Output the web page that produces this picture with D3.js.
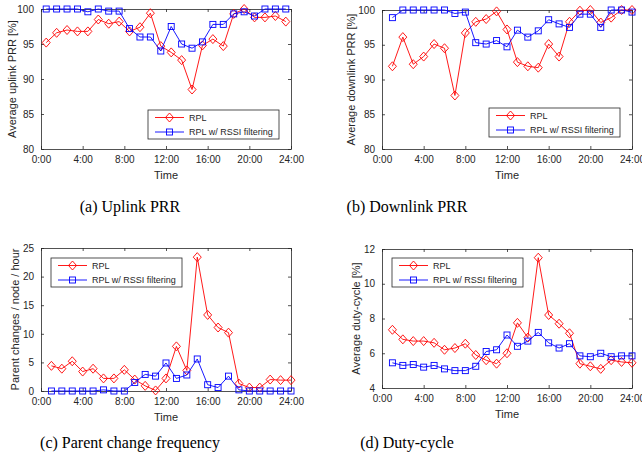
<!DOCTYPE html>
<html>
<head>
<meta charset="utf-8">
<script src="https://cdn.jsdelivr.net/npm/d3@7"></script>
<style>
  body { margin: 0; background: #fff; }
  svg { display: block; }
</style>
</head>
<body>
<svg id="chart" width="642" height="461"></svg>
<script>
// hours (a is sampled on half hours, the others on whole hours)
var hoursHalf = [0.5, 1.5, 2.5, 3.5, 4.5, 5.5, 6.5, 7.5, 8.5, 9.5, 10.5, 11.5,
                 12.5, 13.5, 14.5, 15.5, 16.5, 17.5, 18.5, 19.5, 20.5, 21.5, 22.5, 23.5];
var hoursFull = [1, 2, 3, 4, 5, 6, 7, 8, 9, 10, 11, 12,
                 13, 14, 15, 16, 17, 18, 19, 20, 21, 22, 23, 24];
var timeTicks = [0, 4, 8, 12, 16, 20, 24];
var timeLabels = ["0:00", "4:00", "8:00", "12:00", "16:00", "20:00", "24:00"];
var seriesNames = ["RPL", "RPL w/ RSSI filtering"];

// (a) uplink PRR
var upRpl  = [95.2, 96.6, 97.0, 96.8, 96.8, 98.5, 97.9, 98.2, 96.8, 97.4, 99.4, 94.7,
              93.8, 92.7, 88.5, 94.8, 95.7, 94.7, 99.3, 100, 98.8, 98.8, 99.0, 98.2];
var upRssi = [100, 100, 100, 100, 99.6, 100, 99.7, 99.7, 97.2, 96.0, 96.0, 94.0,
              97.5, 95.0, 94.4, 95.3, 97.8, 97.8, 99.3, 99.6, 99.0, 100, 100, 100];

// (b) downlink PRR
var downRpl  = [91.9, 96.1, 92.2, 93.3, 95.1, 94.5, 87.7, 96.7, 98.3, 98.7, 99.8, 97.2,
                92.5, 91.9, 91.7, 95.1, 93.3, 98.3, 99.9, 100, 98.2, 98.9, 100, 100];
var downRssi = [98.9, 100, 100, 100, 100, 100, 99.5, 99.7, 95.3, 95.1, 95.6, 94.7,
                97.1, 96.1, 97.0, 98.6, 98.0, 97.5, 99.4, 99.4, 97.5, 100, 100, 99.7];

// (c) parent changes / node / hour
var pcRpl  = [4.4, 3.9, 5.2, 3.4, 3.9, 2.2, 2.2, 3.7, 2.0, 0.9, 0.1, 2.2,
              7.8, 3.6, 23.4, 13.3, 11.1, 10.2, 1.3, 0.6, 0.6, 2.0, 1.9, 1.9];
var pcRssi = [0, 0, 0, 0, 0, 0.2, 0, 0, 1.5, 2.9, 2.6, 4.9,
              2.2, 2.8, 5.6, 1.1, 0.6, 2.6, 0.2, 0, 0, 0, 0, 0];

// (d) duty-cycle
var dcRpl  = [7.35, 6.8, 6.7, 6.7, 6.6, 6.2, 6.3, 6.55, 5.9, 5.6, 5.4, 6.0,
              7.75, 6.9, 11.5, 8.2, 7.7, 7.15, 5.4, 5.25, 5.1, 5.6, 5.5, 5.45];
var dcRssi = [5.45, 5.3, 5.35, 5.2, 5.3, 5.1, 5.0, 5.0, 5.25, 6.1, 6.2, 7.05,
              6.4, 6.7, 7.2, 6.6, 6.3, 6.55, 5.85, 5.8, 6.0, 5.8, 5.85, 5.85];

var upTicks = [80, 85, 90, 95, 100];
var pcTicks = [0, 5, 10, 15, 20, 25];
var dcTicks = [4, 6, 8, 10, 12];

var ink = "#262626";
var sans = "'Liberation Sans', Arial, sans-serif";
var svg = d3.select("#chart");

function panel(o) {
  var x = d3.scaleLinear().domain([0, 24]).range([o.l, o.r]);
  var y = d3.scaleLinear().domain(o.dom).range([o.b, o.t]);
  var g = svg.append("g");

  // axes, ticks pointing inward
  var xAx = d3.axisBottom(x).tickValues(timeTicks)
      .tickFormat(function (d, i) { return timeLabels[i]; })
      .tickSizeInner(-3).tickSizeOuter(0).tickPadding(7);
  var yAx = d3.axisLeft(y).tickValues(o.ticks)
      .tickSizeInner(-3).tickSizeOuter(0).tickPadding(7);
  var xTop = d3.axisTop(x).tickValues(timeTicks).tickFormat("")
      .tickSizeInner(-3).tickSizeOuter(0);
  var yRight = d3.axisRight(y).tickValues(o.ticks).tickFormat("")
      .tickSizeInner(-3).tickSizeOuter(0);

  [[xAx, "translate(0," + o.b + ")"], [yAx, "translate(" + o.l + ",0)"],
   [xTop, "translate(0," + o.t + ")"], [yRight, "translate(" + o.r + ",0)"]]
    .forEach(function (a) {
      var ag = g.append("g").attr("transform", a[1]).call(a[0]);
      ag.selectAll("path, line").attr("stroke", ink).attr("stroke-width", 0.8);
      ag.selectAll("text").attr("fill", ink).style("font-family", sans).style("font-size", "10px");
    });

  g.append("text").attr("x", (o.l + o.r) / 2).attr("y", o.b + 30)
    .attr("text-anchor", "middle").attr("fill", ink)
    .style("font-family", sans).style("font-size", "11px").text("Time");
  g.append("text")
    .attr("transform", "translate(" + o.yl + "," + (o.t + o.b) / 2 + ") rotate(-90)")
    .attr("text-anchor", "middle").attr("dy", "0.35em").attr("fill", ink)
    .style("font-family", sans).style("font-size", "11px").text(o.ylab);

  var line = d3.line().x(function (d) { return x(d[0]); }).y(function (d) { return y(d[1]); });
  var diamond = function (cx, cy) {
    return "M" + cx + "," + (cy - 4.5) + "L" + (cx + 4) + "," + cy + "L" + cx + "," + (cy + 4.5) + "L" + (cx - 4) + "," + cy + "Z";
  };

  var sets = [
    { vals: o.rpl, color: "#ff0000", marker: "diamond" },
    { vals: o.rssi, color: "#0000ff", marker: "square" }
  ];
  sets.forEach(function (s) {
    var pts = o.hours.map(function (h, i) { return [h, s.vals[i]]; });
    g.append("path").datum(pts).attr("d", line)
      .attr("fill", "none").attr("stroke", s.color).attr("stroke-width", 0.9);
    if (s.marker === "diamond") {
      g.selectAll(null).data(pts).enter().append("path")
        .attr("d", function (d) { return diamond(x(d[0]), y(d[1])); })
        .attr("fill", "none").attr("stroke", s.color).attr("stroke-width", 0.9);
    } else {
      g.selectAll(null).data(pts).enter().append("rect")
        .attr("x", function (d) { return x(d[0]) - 3; })
        .attr("y", function (d) { return y(d[1]) - 3; })
        .attr("width", 6).attr("height", 6)
        .attr("fill", "none").attr("stroke", s.color).attr("stroke-width", 0.9);
    }
  });

  // legend
  var lg = g.append("g").attr("transform", "translate(" + o.lx + "," + o.ly + ")");
  lg.append("rect").attr("width", 131).attr("height", 29)
    .attr("fill", "#fff").attr("stroke", ink).attr("stroke-width", 0.8);
  sets.forEach(function (s, i) {
    var yy = 7.5 + i * 14.5;
    lg.append("line").attr("x1", 7).attr("x2", 36).attr("y1", yy).attr("y2", yy)
      .attr("stroke", s.color).attr("stroke-width", 0.9);
    if (s.marker === "diamond") {
      lg.append("path").attr("d", diamond(21.5, yy))
        .attr("fill", "none").attr("stroke", s.color).attr("stroke-width", 0.9);
    } else {
      lg.append("rect").attr("x", 18.5).attr("y", yy - 3).attr("width", 6).attr("height", 6)
        .attr("fill", "none").attr("stroke", s.color).attr("stroke-width", 0.9);
    }
    lg.append("text").attr("x", 41).attr("y", yy).attr("dy", "0.35em").attr("fill", ink)
      .style("font-family", sans).style("font-size", "9px").text(seriesNames[i]);
  });

  svg.append("text").attr("x", o.cx).attr("y", o.cy).attr("text-anchor", "middle")
    .style("font-family", "'Liberation Serif', 'Times New Roman', serif")
    .style("font-size", "16px").attr("fill", "#000").text(o.cap);
}

panel({ l: 41, r: 291, t: 9, b: 149, dom: [80, 100], ticks: upTicks, hours: hoursHalf,
        rpl: upRpl, rssi: upRssi, ylab: "Average uplink PRR [%]", yl: 12,
        lx: 148, ly: 110, cap: "(a) Uplink PRR", cx: 130, cy: 212 });
panel({ l: 382, r: 632, t: 10, b: 149, dom: [80, 100], ticks: upTicks, hours: hoursFull,
        rpl: downRpl, rssi: downRssi, ylab: "Average downlink PRR [%]", yl: 351,
        lx: 489, ly: 108, cap: "(b) Downlink PRR", cx: 407, cy: 212 });
panel({ l: 41, r: 291, t: 248, b: 391, dom: [0, 25], ticks: pcTicks, hours: hoursFull,
        rpl: pcRpl, rssi: pcRssi, ylab: "Parent changes / node / hour", yl: 15,
        lx: 51, ly: 258, cap: "(c) Parent change frequency", cx: 130, cy: 448 });
panel({ l: 382, r: 632, t: 249, b: 388, dom: [4, 12], ticks: dcTicks, hours: hoursFull,
        rpl: dcRpl, rssi: dcRssi, ylab: "Average duty-cycle [%]", yl: 356,
        lx: 392, ly: 258, cap: "(d) Duty-cycle", cx: 407, cy: 448 });
</script>
</body>
</html>
